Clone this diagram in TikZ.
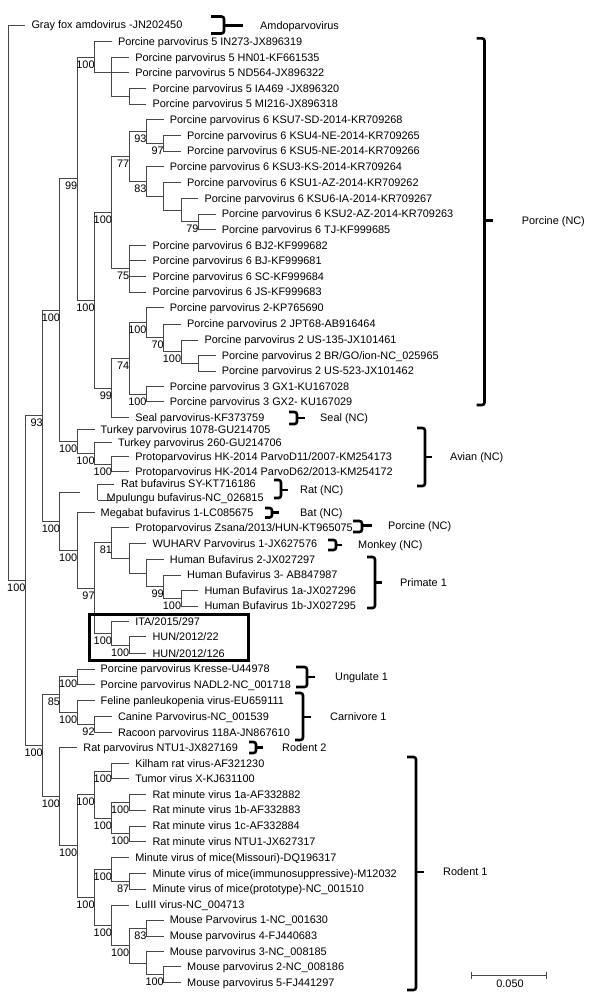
\documentclass[tikz,border=0pt]{standalone}
\usepackage{fontspec}
\setmainfont{Liberation Sans}
\newcommand\fsz{\fontsize{10.9}{13}\selectfont}
% leaf: name, parent, x end, y, text
\newcommand\leafn[5]{\coordinate (#1) at (#3,#4); \draw[br] (#2) |- (#1); \node[lt] (#1-txt) at ([xshift=6pt]#1) {#5};}
% bootstrap value
\newcommand\bsv[2]{\node[bt] (#1-bs) at ([xshift=0.3pt,yshift=-3pt]#1) {#2};}
% bracket: name, x1, x2, xt, ytop, ybot, ymid, text x, text
\newcommand\brk[9]{%
  \coordinate (#1-a) at (#2,#5); \coordinate (#1-b) at (#3,#5);
  \coordinate (#1-c) at (#3,#6); \coordinate (#1-d) at (#2,#6);
  \coordinate (#1-m) at (#3,#7); \coordinate (#1-t) at (#4,#7);
  \draw[bk] (#1-a) -- (#1-b) -- (#1-c) -- (#1-d);
  \draw[bk] (#1-m) -- (#1-t);
  \node[lt] (#1-l) at (#8,#7) {#9};}
\begin{document}
\begin{tikzpicture}[x=1pt,y=-1pt,
  br/.style={draw=black!72, line width=0.9pt},
  lt/.style={anchor=west, inner sep=0pt, text height=7.8pt, text depth=0pt, font=\fsz},
  bt/.style={anchor=north east, inner sep=0pt, text height=7.8pt, text depth=0pt, font=\fsz},
  bk/.style={draw=black, line width=2.6pt, rounded corners=2.5pt},
  boxst/.style={draw=black, line width=3pt}]
\useasboundingbox (0,0) rectangle (600,1004);
\fill[white] (0,0) rectangle (600,1004);
% internal nodes
\coordinate (root) at (8,302.85);
\coordinate (IN) at (25.3,580.7);
\coordinate (A) at (42.6,415.8);
\coordinate (B) at (42.6,745.6);
\coordinate (A1) at (59.9,310.1);
\coordinate (A2) at (59.9,521.45);
\coordinate (A1a) at (77.2,178.75);
\coordinate (A1b) at (77.2,441.4);
\coordinate (PV5) at (94.5,57.2);
\coordinate (PV5b) at (111.8,72.7);
\coordinate (PV5c) at (129.1,96.15);
\coordinate (C) at (94.5,300.3);
\coordinate (C1) at (111.8,212.55);
\coordinate (C2) at (111.8,388.1);
\coordinate (E1) at (129.1,156.4);
\coordinate (E2) at (129.1,268.7);
\coordinate (F1) at (146.4,131.2);
\coordinate (G) at (163.7,143.15);
\coordinate (F2) at (146.4,181.55);
\coordinate (H) at (163.7,196.4);
\coordinate (I) at (181,210.1);
\coordinate (J) at (198.3,221.85);
\coordinate (D) at (129.1,358.5);
\coordinate (P) at (146.4,322.8);
\coordinate (P1) at (163.7,337.85);
\coordinate (P2) at (181,351.7);
\coordinate (P3) at (198.3,363.35);
\coordinate (GX) at (146.4,394.2);
\coordinate (K) at (94.5,453.45);
\coordinate (L) at (111.8,464.2);
\coordinate (RBa) at (80,492.7);
\coordinate (RBt) at (97.7,484);
\coordinate (RBb) at (97.7,500.3);
\coordinate (M) at (77.2,550.2);
\coordinate (N) at (94.5,588.1);
\coordinate (O) at (111.8,542.9);
\coordinate (S) at (129.1,558.15);
\coordinate (T) at (146.4,573);
\coordinate (U) at (163.7,586.7);
\coordinate (V) at (181,598.35);
\coordinate (Q) at (111.8,633.35);
\coordinate (R) at (129.1,645);
\coordinate (W) at (59.9,694.6);
\coordinate (Y) at (77.2,676.65);
\coordinate (Z) at (77.2,712.6);
\coordinate (Z1) at (94.5,724.5);
\coordinate (X) at (59.9,796.6);
\coordinate (X1) at (77.2,845.9);
\coordinate (X2) at (94.5,794.5);
\coordinate (KT) at (111.8,771);
\coordinate (RM) at (111.8,818);
\coordinate (RMab) at (129.1,802.15);
\coordinate (RM1) at (129.1,833.85);
\coordinate (X3) at (94.5,897.35);
\coordinate (MVM) at (111.8,869.4);
\coordinate (MVM2) at (129.1,881.15);
\coordinate (MS) at (111.8,925.3);
\coordinate (MS1) at (129.1,945.6);
\coordinate (MS2) at (146.4,928);
\coordinate (MS3) at (146.4,963.2);
\coordinate (MS4) at (163.7,974.7);
% internal edges
\foreach \p/\c in {root/IN, IN/A, IN/B, A/A1, A/A2, A1/A1a, A1/A1b, A1a/PV5, A1a/C,
  PV5/PV5b, PV5b/PV5c, C/C1, C/C2, C1/E1, C1/E2, E1/F1, E1/F2, F1/G, F2/H, H/I, I/J,
  C2/D, D/P, D/GX, P/P1, P1/P2, P2/P3, A1b/K, K/L, A2/RBa, A2/M, M/N, N/O, N/Q, O/S, S/T,
  T/U, U/V, Q/R, B/W, B/X, W/Y, W/Z, Z/Z1, X/X1, X1/X2, X1/X3, X2/KT, X2/RM, RM/RMab,
  RM/RM1, X3/MVM, X3/MS, MVM/MVM2, MS/MS1, MS1/MS2, MS1/MS3, MS3/MS4}
  {\draw[br] (\p) |- (\c);}
\draw[br] (RBt) -- (RBb);
% leaves
\leafn{l1}{root}{25.3}{25}{Gray fox amdovirus -JN202450}
\leafn{l2}{PV5}{111.8}{41.7}{Porcine parvovirus 5 IN273-JX896319}
\leafn{l3}{PV5b}{129.1}{57.3}{Porcine parvovirus 5 HN01-KF661535}
\leafn{l4}{PV5b}{129.1}{72.7}{Porcine parvovirus 5 ND564-JX896322}
\leafn{l5}{PV5c}{146.4}{88.3}{Porcine parvovirus 5 IA469 -JX896320}
\leafn{l6}{PV5c}{146.4}{104}{Porcine parvovirus 5 MI216-JX896318}
\leafn{l7}{F1}{163.7}{119.3}{Porcine parvovirus 6 KSU7-SD-2014-KR709268}
\leafn{l8}{G}{181}{135.3}{Porcine parvovirus 6 KSU4-NE-2014-KR709265}
\leafn{l9}{G}{181}{151}{Porcine parvovirus 6 KSU5-NE-2014-KR709266}
\leafn{l10}{F2}{163.7}{166.7}{Porcine parvovirus 6 KSU3-KS-2014-KR709264}
\leafn{l11}{H}{181}{182.7}{Porcine parvovirus 6 KSU1-AZ-2014-KR709262}
\leafn{l12}{I}{198.3}{198.3}{Porcine parvovirus 6 KSU6-IA-2014-KR709267}
\leafn{l13}{J}{215.6}{214}{Porcine parvovirus 6 KSU2-AZ-2014-KR709263}
\leafn{l14}{J}{215.6}{229.7}{Porcine parvovirus 6 TJ-KF999685}
\leafn{l15}{E2}{146.4}{245.3}{Porcine parvovirus 6 BJ2-KF999682}
\leafn{l16}{E2}{146.4}{260.7}{Porcine parvovirus 6 BJ-KF999681}
\leafn{l17}{E2}{146.4}{276.7}{Porcine parvovirus 6 SC-KF999684}
\leafn{l18}{E2}{146.4}{292}{Porcine parvovirus 6 JS-KF999683}
\leafn{l19}{P}{163.7}{307.7}{Porcine parvovirus 2-KP765690}
\leafn{l20}{P1}{181}{324}{Porcine parvovirus 2 JPT68-AB916464}
\leafn{l21}{P2}{198.3}{340}{Porcine parvovirus 2 US-135-JX101461}
\leafn{l22}{P3}{215.6}{355.7}{Porcine parvovirus 2 BR/GO/ion-NC\_025965}
\leafn{l23}{P3}{215.6}{371}{Porcine parvovirus 2 US-523-JX101462}
\leafn{l24}{GX}{163.7}{386.7}{Porcine parvovirus 3 GX1-KU167028}
\leafn{l25}{GX}{163.7}{401.7}{Porcine parvovirus 3 GX2- KU167029}
\leafn{l26}{C2}{129.1}{417.7}{Seal parvovirus-KF373759}
\leafn{l27}{A1b}{94.5}{429.3}{Turkey parvovirus 1078-GU214705}
\leafn{l28}{K}{111.8}{442.7}{Turkey parvovirus 260-GU214706}
\leafn{l29}{L}{129.1}{456.7}{Protoparvovirus HK-2014 ParvoD11/2007-KM254173}
\leafn{l30}{L}{129.1}{471.7}{Protoparvovirus HK-2014 ParvoD62/2013-KM254172}
\coordinate (l31) at (113.5,484); \draw[br] (RBt) -- (l31);
\node[lt] (l31-txt) at (120.8,484) {Rat bufavirus SY-KT716186};
\coordinate (l32) at (113.5,500.3); \draw[br] (RBb) -- (l32);
\node[lt] (l32-txt) at (106.5,497.5) {Mpulungu bufavirus-NC\_026815};
\leafn{l33}{M}{94.5}{512.3}{Megabat bufavirus 1-LC085675}
\leafn{l34}{O}{129.1}{527.7}{Protoparvovirus Zsana/2013/HUN-KT965075}
\leafn{l35}{S}{146.4}{543.3}{WUHARV Parvovirus 1-JX627576}
\leafn{l36}{T}{163.7}{559.3}{Human Bufavirus 2-JX027297}
\leafn{l37}{U}{181}{575}{Human Bufavirus 3- AB847987}
\leafn{l38}{V}{198.3}{590.7}{Human Bufavirus 1a-JX027296}
\leafn{l39}{V}{198.3}{606}{Human Bufavirus 1b-JX027295}
\leafn{l40}{Q}{129.1}{621.7}{ITA/2015/297}
\leafn{l41}{R}{146.4}{636.7}{HUN/2012/22}
\leafn{l42}{R}{146.4}{653.3}{HUN/2012/126}
\leafn{l43}{Y}{94.5}{669}{Porcine parvovirus Kresse-U44978}
\leafn{l44}{Y}{94.5}{684.3}{Porcine parvovirus NADL2-NC\_001718}
\leafn{l45}{Z}{94.5}{700.7}{Feline panleukopenia virus-EU659111}
\leafn{l46}{Z1}{111.8}{716.7}{Canine Parvovirus-NC\_001539}
\leafn{l47}{Z1}{111.8}{732.3}{Racoon parvovirus 118A-JN867610}
\leafn{l48}{X}{77.2}{747.3}{Rat parvovirus NTU1-JX827169}
\leafn{l49}{KT}{129.1}{763.3}{Kilham rat virus-AF321230}
\leafn{l50}{KT}{129.1}{778.7}{Tumor virus X-KJ631100}
\leafn{l51}{RMab}{146.4}{794.3}{Rat minute virus 1a-AF332882}
\leafn{l52}{RMab}{146.4}{810}{Rat minute virus 1b-AF332883}
\leafn{l53}{RM1}{146.4}{826}{Rat minute virus 1c-AF332884}
\leafn{l54}{RM1}{146.4}{841.7}{Rat minute virus NTU1-JX627317}
\leafn{l55}{MVM}{129.1}{857.7}{Minute virus of mice(Missouri)-DQ196317}
\leafn{l56}{MVM2}{146.4}{873.3}{Minute virus of mice(immunosuppressive)-M12032}
\leafn{l57}{MVM2}{146.4}{889}{Minute virus of mice(prototype)-NC\_001510}
\leafn{l58}{MS}{129.1}{905}{LuIII virus-NC\_004713}
\leafn{l59}{MS2}{163.7}{920}{Mouse Parvovirus 1-NC\_001630}
\leafn{l60}{MS2}{163.7}{936}{Mouse parvovirus 4-FJ440683}
\leafn{l61}{MS3}{163.7}{951.7}{Mouse parvovirus 3-NC\_008185}
\leafn{l62}{MS4}{181}{966.7}{Mouse parvovirus 2-NC\_008186}
\leafn{l63}{MS4}{181}{982.7}{Mouse parvovirus 5-FJ441297}
% bootstrap values
\bsv{IN}{100} \bsv{A}{93} \bsv{A1}{100} \bsv{A2}{100} \bsv{A1a}{99} \bsv{A1b}{100}
\bsv{PV5}{100} \bsv{C}{100} \bsv{C1}{100} \bsv{C2}{99} \bsv{E1}{77} \bsv{E2}{75}
\bsv{F1}{93} \bsv{G}{97} \bsv{F2}{83} \bsv{J}{79} \bsv{D}{74} \bsv{P}{100} \bsv{P1}{70}
\bsv{P2}{100} \bsv{GX}{100} \bsv{K}{100} \bsv{L}{100} \bsv{M}{100} \bsv{N}{97} \bsv{O}{81}
\bsv{U}{99} \bsv{V}{100} \bsv{Q}{100} \bsv{R}{100} \bsv{B}{100} \bsv{W}{85} \bsv{Y}{100}
\bsv{Z}{100} \bsv{Z1}{92} \bsv{X}{100} \bsv{X1}{100} \bsv{X2}{100} \bsv{KT}{100}
\bsv{RM}{100} \bsv{RMab}{100} \bsv{RM1}{100} \bsv{X3}{100} \bsv{MVM}{100} \bsv{MVM2}{87}
\bsv{MS}{100} \bsv{MS1}{100} \bsv{MS2}{83} \bsv{MS4}{100}
% highlight box
\coordinate (bx1) at (89,614.5); \coordinate (bx2) at (248.5,660);
\draw[boxst] (bx1) rectangle (bx2);
% brackets
\brk{amd}{211}{224}{243}{16.5}{33.5}{25.7}{260}{Amdoparvovirus}
\brk{por}{476.5}{484.5}{492.5}{38.3}{405}{220.7}{521.7}{Porcine (NC)}
\brk{seal}{289}{297}{305}{412}{424}{418}{320}{Seal (NC)}
\brk{avi}{417}{425}{432}{428}{486}{457}{450}{Avian (NC)}
\brk{rat}{274}{281}{288}{480}{498}{490}{300}{Rat (NC)}
\brk{bat}{265}{272}{279}{508}{517.5}{512.7}{300}{Bat (NC)}
\brk{por2}{353}{362}{372}{521}{532}{525.5}{388}{Porcine (NC)}
\brk{mon}{328}{336}{342}{540}{550}{545}{358}{Monkey (NC)}
\brk{pri}{367}{375}{382}{557}{608}{582.5}{400}{Primate 1}
\brk{ung}{296}{307}{315}{667}{687}{677}{335}{Ungulate 1}
\brk{car}{295}{303}{311}{693}{740}{717}{330}{Carnivore 1}
\brk{rod2}{249}{256}{263}{742}{753}{747.5}{282}{Rodent 2}
\brk{rod1}{407}{416}{424}{757}{990}{872}{443}{Rodent 1}
% scale bar
\coordinate (sb1) at (471,975); \coordinate (sb2) at (546,975);
\draw[br] (sb1) -- (sb2);
\draw[br] ([yshift=3.5pt]sb1) -- ([yshift=-3.5pt]sb1);
\draw[br] ([yshift=3.5pt]sb2) -- ([yshift=-3.5pt]sb2);
\node[lt, anchor=center] (sbl) at (510,984) {0.050};
\end{tikzpicture}
\end{document}
